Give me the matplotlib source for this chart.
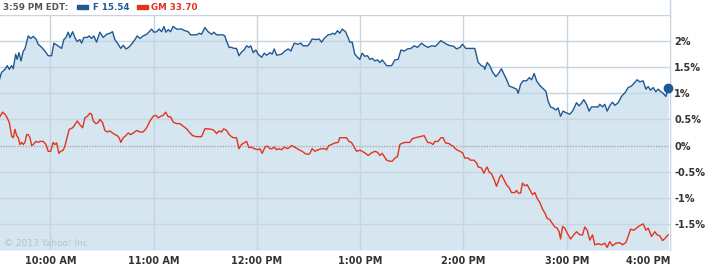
import matplotlib
matplotlib.use("Agg")
import matplotlib.pyplot as plt
from matplotlib.patches import Rectangle

# minutes after 9:30 open, % change
f_min = [0, 1.7, 3.7, 5.0, 6.2, 7.6, 8.5, 9.9, 10.8, 11.8, 13.0, 14.3, 15.3, 17.2, 18.6, 20.1,
         21.7, 23.0, 25.0, 26.9, 28.8, 30.8, 32.1, 34.0, 36.6, 37.9, 39.1, 40.4, 41.4, 43.0,
         44.3, 45.6, 47.2, 48.2, 49.5, 51.5, 52.6, 54.0, 55.3, 56.9, 58.8, 60.8, 62.7, 64.6,
         66.2, 67.5, 69.5, 70.9, 72.4, 74.0, 75.5, 77.2, 79.2, 80.5, 82.1, 84.0, 86.0, 87.5,
         88.9, 90.2, 91.8, 93.3, 94.7, 96.0, 97.2, 98.5, 99.9, 101.4, 103.4, 106.3, 108.2,
         110.1, 111.5, 115.0, 116.5, 117.9, 119.8, 121.7, 123.7, 125.1, 126.6, 130.1, 131.4,
         132.4, 133.9, 135.3, 136.8, 138.2, 139.6, 141.1, 142.6, 144.0, 145.4, 146.5, 147.9,
         149.4, 150.8, 152.8, 154.3, 155.7, 157.6, 158.9, 160.1, 161.5, 164.4, 166.3, 168.2,
         169.8, 171.7, 174.0, 175.6, 176.9, 179.5, 180.8, 182.1, 184.7, 186.2, 187.6, 189.1,
         191.4, 193.0, 194.3, 195.3, 196.9, 198.2, 199.6, 201.5, 203.0, 204.0, 205.4, 206.9,
         208.5, 209.8, 211.2, 212.7, 214.3, 215.6, 217.0, 218.6, 220.1, 221.5, 222.8, 224.0,
         225.4, 228.3, 230.2, 232.1, 233.7, 235.6, 237.5, 239.5, 241.4, 243.4, 245.7, 247.6,
         249.5, 251.5, 253.8, 256.9, 259.2, 261.5, 264.4, 266.0, 268.0, 269.5, 271.4, 276.6,
         278.6, 280.5, 281.9, 282.4, 283.8, 285.3, 286.9, 288.8, 290.2, 292.1, 293.5, 295.0,
         296.6, 298.9, 300.9, 301.8, 303.2, 304.7, 306.7, 308.2, 309.6, 311.1, 312.5, 314.4,
         316.3, 317.9, 319.2, 320.6, 322.1, 323.7, 325.0, 326.4, 327.9, 329.5, 331.8, 333.4,
         335.7, 337.2, 338.6, 339.9, 341.5, 343.0, 344.4, 348.3, 349.2, 350.8, 352.1, 353.5,
         355.1, 356.6, 358.0, 359.9, 361.8, 363.8, 365.7, 367.6, 369.6, 370.9, 372.5, 374.4,
         376.0, 377.3, 378.7, 380.2, 381.8, 383.1, 384.5, 386.0, 387.6, 389.1]
f_pct = [1.21, 1.40, 1.46, 1.53, 1.46, 1.53, 1.47, 1.75, 1.65, 1.78, 1.62, 1.81, 1.85, 2.10, 2.05, 2.09,
         2.04, 1.94, 1.88, 1.81, 1.72, 1.72, 1.96, 1.92, 1.86, 2.03, 2.07, 2.17, 2.07, 2.18,
         2.07, 1.99, 2.03, 1.96, 2.07, 2.07, 2.10, 2.05, 2.10, 1.98, 2.17, 2.07, 2.13, 2.15,
         2.18, 2.03, 1.94, 1.86, 1.92, 1.85, 1.88, 1.94, 2.03, 2.10, 2.05, 2.10, 2.13, 2.18,
         2.23, 2.17, 2.18, 2.23, 2.18, 2.28, 2.17, 2.22, 2.18, 2.28, 2.23, 2.23, 2.20,
         2.18, 2.12, 2.12, 2.15, 2.13, 2.26, 2.18, 2.13, 2.17, 2.12, 2.12, 2.10,
         2.00, 1.88, 1.88, 1.86, 1.86, 1.72, 1.79, 1.83, 1.91, 1.88, 1.91, 1.78,
         1.83, 1.75, 1.69, 1.77, 1.73, 1.78, 1.75, 1.85, 1.73, 1.75, 1.81, 1.85,
         1.81, 1.96, 1.94, 1.96, 1.91, 1.91, 1.96, 2.04, 2.03, 2.04, 1.98, 2.05,
         2.12, 2.13, 2.15, 2.13, 2.20, 2.15, 2.23, 2.18, 2.07, 1.98, 1.98, 1.75,
         1.69, 1.65, 1.77, 1.71, 1.72, 1.65, 1.67, 1.62, 1.64, 1.59, 1.64, 1.59,
         1.53, 1.53, 1.64, 1.65, 1.83, 1.81, 1.85, 1.86, 1.91, 1.88, 1.96, 1.91,
         1.88, 1.91, 1.90, 2.01, 1.96, 1.92, 1.90, 1.85, 1.88, 1.94, 1.86, 1.86,
         1.59, 1.53, 1.51, 1.46, 1.59, 1.53, 1.41, 1.32, 1.37, 1.47, 1.37, 1.27,
         1.14, 1.11, 1.08, 1.00, 1.17, 1.24, 1.24, 1.30, 1.26, 1.38, 1.24, 1.15,
         1.09, 1.04, 0.85, 0.74, 0.72, 0.68, 0.72, 0.56, 0.66, 0.63, 0.60, 0.66,
         0.82, 0.76, 0.81, 0.88, 0.79, 0.66, 0.74, 0.74, 0.79, 0.74, 0.79, 0.66,
         0.77, 0.83, 0.77, 0.82, 0.94, 1.01, 1.11, 1.14, 1.21, 1.26, 1.22, 1.24,
         1.08, 1.13, 1.06, 1.11, 1.03, 1.08, 1.04, 1.00, 0.94, 1.11]

gm_min = [0, 2.3, 3.7, 5.0, 6.2, 7.6, 8.5, 9.5, 10.5, 11.4, 12.4, 13.4, 14.3, 15.3, 16.3, 17.2,
          18.2, 19.2, 20.1, 21.7, 23.0, 24.0, 25.9, 27.5, 28.8, 30.2, 31.7, 32.7, 33.7, 35.0,
          36.0, 37.5, 38.5, 39.5, 41.0, 43.0, 44.3, 45.7, 47.2, 48.8, 50.1, 51.5, 53.0, 54.0,
          55.0, 56.5, 57.8, 58.8, 60.4, 61.7, 63.1, 64.6, 66.2, 67.5, 68.9, 70.0, 71.0, 72.4,
          73.9, 75.3, 76.7, 78.2, 80.2, 82.1, 84.0, 86.0, 87.9, 89.8, 91.4, 92.7, 94.1, 95.6,
          97.0, 98.5, 99.9, 101.4, 103.4, 105.3, 107.2, 109.2, 110.7, 112.7, 115.0, 117.9,
          119.8, 121.7, 123.7, 125.1, 126.6, 128.1, 129.5, 130.8, 132.4, 133.9, 134.9, 136.3,
          138.2, 139.6, 141.1, 142.6, 144.0, 145.4, 147.0, 148.5, 150.4, 151.8, 153.1, 154.7,
          156.2, 157.6, 158.9, 160.1, 161.5, 162.8, 164.4, 165.9, 167.9, 170.2, 172.5, 174.4,
          176.3, 177.9, 179.8, 180.8, 182.1, 183.7, 185.6, 187.6, 189.5, 190.5, 191.8, 193.4,
          195.3, 197.2, 198.2, 200.2, 202.1, 203.5, 205.0, 206.5, 207.9, 209.8, 211.2, 212.7,
          214.7, 216.6, 218.6, 220.1, 221.5, 222.8, 224.0, 225.4, 227.3, 228.6, 230.2, 231.7,
          233.1, 234.1, 236.0, 238.9, 240.2, 242.2, 244.7, 247.2, 249.2, 251.1, 252.4, 253.4,
          255.3, 256.9, 258.2, 259.6, 261.5, 263.1, 264.0, 266.0, 268.0, 269.5, 270.8, 272.8,
          274.1, 276.1, 277.6, 278.6, 280.5, 281.9, 283.0, 283.8, 285.0, 286.3, 287.7, 289.2,
          290.2, 291.2, 292.1, 293.5, 295.0, 296.6, 297.9, 299.9, 300.9, 301.8, 303.2, 304.3,
          305.7, 307.0, 308.6, 310.1, 311.5, 312.8, 314.4, 316.0, 317.3, 318.6, 320.2, 321.8,
          323.1, 324.4, 325.6, 326.4, 327.6, 328.9, 330.2, 332.2, 334.1, 335.7, 337.6, 339.2,
          340.5, 341.9, 343.4, 345.0, 346.3, 348.3, 350.2, 352.1, 353.5, 355.0, 356.6, 358.5,
          360.9, 362.4, 364.3, 365.7, 367.1, 369.0, 370.5, 372.1, 374.4, 376.0, 377.3, 379.3,
          381.2, 382.5, 384.1, 385.7, 387.0, 388.9]
gm_pct = [0.51, 0.64, 0.60, 0.53, 0.44, 0.18, 0.15, 0.31, 0.19, 0.15, 0.02, 0.06, 0.02, 0.06, 0.21, 0.21,
          0.15, 0.00, 0.02, 0.08, 0.06, 0.08, 0.08, 0.02, -0.11, -0.11, 0.06, 0.02, 0.05, -0.15,
          -0.11, -0.09, -0.01, 0.12, 0.31, 0.34, 0.40, 0.47, 0.40, 0.34, 0.53, 0.56, 0.62, 0.60,
          0.47, 0.42, 0.44, 0.50, 0.44, 0.29, 0.26, 0.28, 0.24, 0.21, 0.19, 0.15, 0.06, 0.15,
          0.19, 0.24, 0.21, 0.24, 0.29, 0.26, 0.26, 0.34, 0.47, 0.56, 0.58, 0.53, 0.56, 0.58,
          0.64, 0.55, 0.55, 0.45, 0.42, 0.42, 0.37, 0.32, 0.26, 0.19, 0.17, 0.17,
          0.32, 0.32, 0.31, 0.29, 0.23, 0.28, 0.26, 0.32, 0.29, 0.21, 0.18, 0.15,
          0.15, -0.06, 0.02, 0.05, 0.08, -0.04, -0.03, -0.06, -0.08, -0.06, -0.15, -0.03,
          -0.01, -0.06, -0.06, -0.03, -0.08, -0.06, -0.08, -0.03, -0.06, 0.00, -0.04, -0.08,
          -0.11, -0.15, -0.17, -0.15, -0.06, -0.11, -0.08, -0.06, -0.06, -0.08, 0.00, 0.02,
          0.05, 0.06, 0.15, 0.15, 0.15, 0.08, 0.06, -0.03, -0.11, -0.09, -0.11, -0.14,
          -0.19, -0.14, -0.11, -0.13, -0.19, -0.15, -0.21, -0.28, -0.30, -0.30, -0.24, -0.21,
          0.02, 0.04, 0.06, 0.06, 0.13, 0.15, 0.17, 0.19, 0.06, 0.05, 0.02, 0.08,
          0.08, 0.15, 0.15, 0.05, 0.04, 0.00, -0.01, -0.08, -0.11, -0.14, -0.24, -0.24,
          -0.28, -0.28, -0.33, -0.41, -0.43, -0.53, -0.45, -0.41, -0.51, -0.54, -0.64, -0.78,
          -0.69, -0.60, -0.56, -0.65, -0.75, -0.81, -0.90, -0.90, -0.86, -0.91, -0.91, -0.72,
          -0.77, -0.75, -0.85, -0.94, -0.90, -1.01, -1.09, -1.22, -1.29, -1.39, -1.42, -1.50,
          -1.56, -1.58, -1.65, -1.79, -1.55, -1.58, -1.67, -1.79, -1.71, -1.65, -1.71, -1.71,
          -1.56, -1.62, -1.81, -1.71, -1.90, -1.88, -1.90, -1.87, -1.95, -1.84, -1.92, -1.87,
          -1.86, -1.90, -1.86, -1.74, -1.60, -1.62, -1.58, -1.54, -1.50, -1.62, -1.58, -1.74,
          -1.65, -1.71, -1.73, -1.82, -1.78, -1.71]

tick_min = [30, 90, 150, 210, 270, 330, 390]
tick_labels = ["10:00 AM", "11:00 AM", "12:00 PM", "1:00 PM", "2:00 PM", "3:00 PM", "4:00 PM"]
y_ticks = [2, 1.5, 1, 0.5, 0, -0.5, -1, -1.5]
y_labels = ["2%", "1.5%", "1%", "0.5%", "0%", "-0.5%", "-1%", "-1.5%"]

blue = "#1f5893"
red = "#e2341d"
grid_c = "#c6d5e1"

plt.rcParams['font.family'] = 'DejaVu Sans'
fig = plt.figure(figsize=(7.11, 2.65), dpi=100)
ax = fig.add_axes([0, 1 - 250 / 265, 670 / 711, 235 / 265])

ax.fill_between(f_min, f_pct, -2.0, color="#d6e6f1", lw=0, zorder=1)
for y in [2.5, 2, 1.5, 1, 0.5, -0.5, -1, -1.5]:
    ax.axhline(y, color=grid_c, lw=1, zorder=2)
for t in tick_min[:-1]:
    ax.axvline(t, color=grid_c, lw=1, zorder=2)
ax.axhline(0, color="#a9a9a9", lw=1, ls=(0, (1, 1)), zorder=2)

ax.plot(gm_min, gm_pct, color=red, lw=1.0, zorder=3)
ax.plot(f_min, f_pct, color=blue, lw=1.0, zorder=3)
ax.plot(f_min[-1], f_pct[-1], "o", color=blue, ms=6, zorder=4, clip_on=False)

ax.set_xlim(0.8, 390)
ax.set_ylim(-2.0, 2.5)
for s in ["top", "left", "bottom"]:
    ax.spines[s].set_visible(False)
ax.spines["right"].set_color(grid_c)

ax.set_xticks(tick_min)
ax.set_xticklabels(tick_labels, fontsize=7, fontweight="bold", color="#333333")
ax.get_xticklabels()[-1].set_ha("right")
ax.yaxis.tick_right()
ax.set_yticks(y_ticks)
ax.set_yticklabels(y_labels, fontsize=7, fontweight="bold", color="#333333")
ax.tick_params(length=0, pad=3)
ax.tick_params(axis="x", pad=4)

ax.text(0.006, 0.008, "\u00a9 2013 Yahoo! Inc.", transform=ax.transAxes,
        fontsize=6.5, color="#b5c2cc", va="bottom")

# right border runs up past the header line (kept under the axes so the end dot stays on top)
fig.add_artist(plt.Line2D([670 / 711, 670 / 711], [1 - 250 / 265, 1], color=grid_c, lw=1, zorder=-1))

# header legend
hy = 1 - 7 / 265
fig.text(3 / 711, hy, "3:59 PM EDT:", fontsize=6.3, fontweight="bold", color="#555555", va="center")
fig.add_artist(Rectangle((77 / 711, 1 - 9 / 265), 11 / 711, 4 / 265, color=blue))
fig.text(93 / 711, hy, "F 15.54", fontsize=6.3, fontweight="bold", color=blue, va="center")
fig.add_artist(Rectangle((137 / 711, 1 - 9 / 265), 11 / 711, 4 / 265, color=red))
fig.text(151 / 711, hy, "GM 33.70", fontsize=6.3, fontweight="bold", color=red, va="center")

fig.savefig("out.png", dpi=100)
